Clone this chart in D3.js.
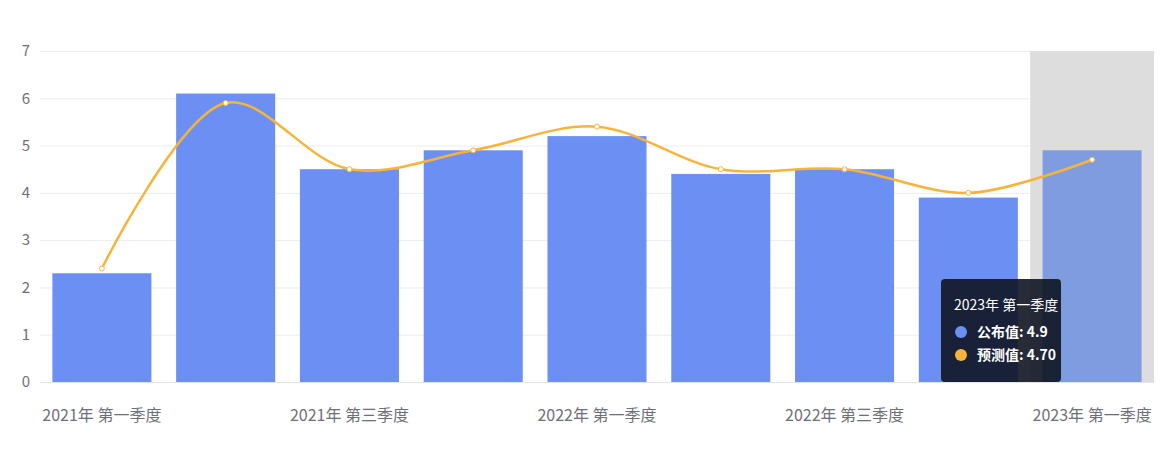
<!DOCTYPE html>
<html>
<head>
<meta charset="utf-8">
<script src="https://cdn.jsdelivr.net/npm/d3@7"></script>
<style>
	body { margin: 0; background: #fff; }
	svg { font-family: 'Noto Sans CJK SC', 'Noto Sans', sans-serif; }
</style>
</head>
<body>
<div id="chart"></div>
<script>
const quarters = [
	'2021年 第一季度', '2021年 第二季度', '2021年 第三季度', '2021年 第四季度',
	'2022年 第一季度', '2022年 第二季度', '2022年 第三季度', '2022年 第四季度',
	'2023年 第一季度',
];
const published = [2.3, 6.1, 4.5, 4.9, 5.2, 4.4, 4.5, 3.9, 4.9];
const forecast = [2.4, 5.9, 4.5, 4.9, 5.4, 4.5, 4.5, 4.0, 4.7];
const yTicks = [0, 1, 2, 3, 4, 5, 6, 7];
const seriesNames = ['公布值', '预测值'];

const width = 1170;
const height = 456;
const hoverIndex = 8;

const barColor = '#6b8ff3';
const lineColor = '#f8b43a';

const svg = d3.select('#chart').append('svg').attr('width', width).attr('height', height);

const x = d3.scaleBand().domain(quarters).range([40, 1154]).paddingInner(0).paddingOuter(0);
const y = d3.scaleLinear().domain([0, 7]).range([382, 51]);

// grid
svg
	.append('g')
	.selectAll('line')
	.data(yTicks)
	.enter()
	.append('line')
	.attr('x1', 40)
	.attr('x2', 1154)
	.attr('y1', (d) => y(d) + 0.5)
	.attr('y2', (d) => y(d) + 0.5)
	.attr('stroke', (d) => (d === 0 ? '#e3e3e3' : '#ebedf1'))
	.attr('stroke-width', 1);

// hover shadow
svg
	.append('rect')
	.attr('x', x(quarters[hoverIndex]))
	.attr('y', y(7))
	.attr('width', x.bandwidth())
	.attr('height', y(0) - y(7))
	.attr('fill', '#dddddd');

// y axis labels
svg
	.append('g')
	.selectAll('text')
	.data(yTicks)
	.enter()
	.append('text')
	.attr('x', 30)
	.attr('y', (d) => y(d))
	.attr('dy', '0.35em')
	.attr('text-anchor', 'end')
	.attr('fill', '#6e7079')
	.style('font-size', '15px')
	.text((d) => d);

// x axis labels, every other one
svg
	.append('g')
	.selectAll('text')
	.data(quarters.filter((d, i) => i % 2 === 0))
	.enter()
	.append('text')
	.attr('x', (d) => x(d) + x.bandwidth() / 2)
	.attr('y', 421)
	.attr('text-anchor', 'middle')
	.attr('fill', '#6e7079')
	.style('font-size', '16px')
	.text((d) => d);

// bars
const barW = x.bandwidth() * 0.8;
svg
	.append('g')
	.selectAll('rect')
	.data(published)
	.enter()
	.append('rect')
	.attr('x', (d, i) => x(quarters[i]) + (x.bandwidth() - barW) / 2)
	.attr('y', (d) => y(d))
	.attr('width', barW)
	.attr('height', (d) => y(0) - y(d))
	.attr('fill', (d, i) => (i === hoverIndex ? '#7f9ce0' : barColor));

// smooth line
const cx = (i) => x(quarters[i]) + x.bandwidth() / 2;
const line = d3
	.line()
	.x((d, i) => cx(i))
	.y((d) => y(d))
	.curve(d3.curveCatmullRom.alpha(0.5));

svg
	.append('path')
	.datum(forecast)
	.attr('d', line)
	.attr('fill', 'none')
	.attr('stroke', lineColor)
	.attr('stroke-width', 2.5);

svg
	.append('g')
	.selectAll('circle')
	.data(forecast)
	.enter()
	.append('circle')
	.attr('cx', (d, i) => cx(i))
	.attr('cy', (d) => y(d))
	.attr('r', 2.5)
	.attr('fill', '#fff')
	.attr('stroke', lineColor)
	.attr('stroke-width', 1);

// tooltip
const tip = svg.append('g').attr('transform', 'translate(941,279)');
tip
	.append('rect')
	.attr('width', 120)
	.attr('height', 103)
	.attr('rx', 4)
	.attr('fill', 'rgba(16,21,34,0.9)');
tip
	.append('text')
	.attr('x', 13)
	.attr('y', 31)
	.attr('fill', '#fff')
	.style('font-size', '14px')
	.text(quarters[hoverIndex]);

const rows = [
	{ name: seriesNames[0], color: barColor, value: published[hoverIndex] },
	{ name: seriesNames[1], color: lineColor, value: forecast[hoverIndex].toFixed(2) },
];
rows.forEach((r, i) => {
	tip
		.append('circle')
		.attr('cx', 20)
		.attr('cy', 53 + i * 23)
		.attr('r', 6)
		.attr('fill', r.color);
	tip
		.append('text')
		.attr('x', 36)
		.attr('y', 58 + i * 23)
		.attr('fill', '#fff')
		.style('font-size', '14px')
		.style('font-weight', '600')
		.text(r.name + ': ' + r.value);
});
</script>
</body>
</html>
